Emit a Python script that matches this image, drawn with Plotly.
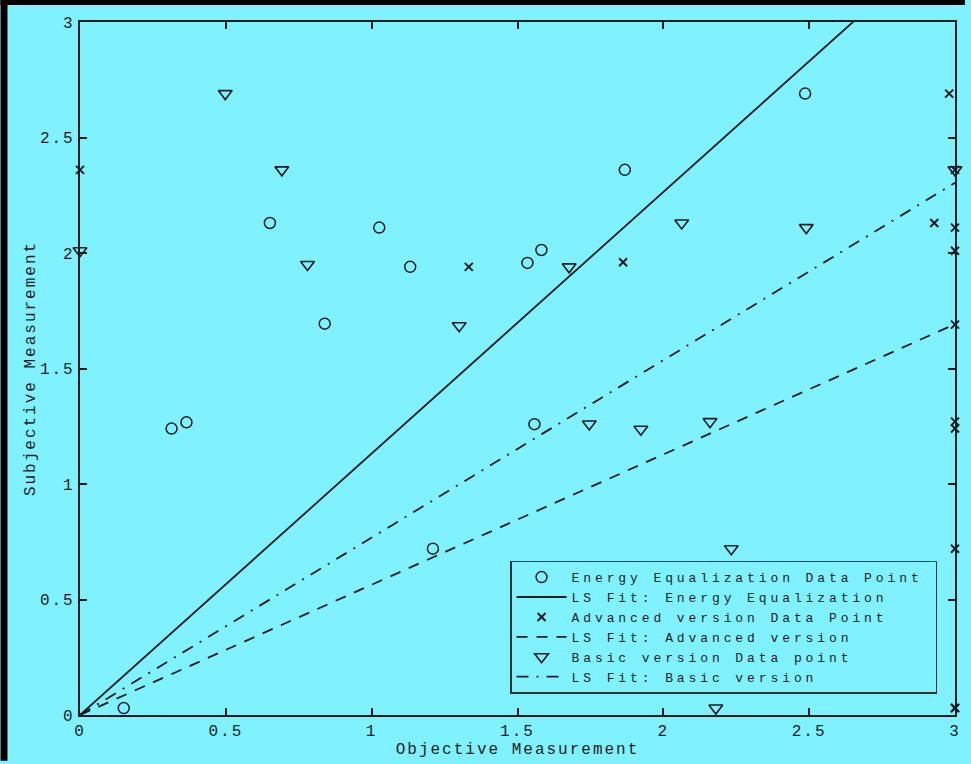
import plotly.graph_objects as go

# Energy Equalization data points
energy_x = [0.15, 0.314, 0.365, 0.651, 0.839, 1.026, 1.132, 1.21, 1.534, 1.582, 1.558, 1.868, 2.486]
energy_y = [0.03, 1.24, 1.267, 2.13, 1.694, 2.11, 1.94, 0.72, 1.957, 2.013, 1.259, 2.36, 2.69]

# Advanced version data points
adv_x = [0.0, 1.333, 1.862, 2.929, 2.98, 3.0, 3.0, 3.0, 3.0, 3.0, 3.0, 3.0, 3.0, 3.0]
adv_y = [2.36, 1.94, 1.96, 2.13, 2.69, 2.36, 2.11, 2.01, 1.69, 1.27, 1.24, 0.72, 0.03, 0.03]

# Basic version data points
basic_x = [0.0, 0.498, 0.692, 0.78, 1.30, 1.677, 1.746, 1.923, 2.063, 2.16, 2.233, 2.18, 2.49, 3.0]
basic_y = [2.01, 2.69, 2.36, 1.95, 1.685, 1.94, 1.26, 1.237, 2.13, 1.27, 0.72, 0.03, 2.11, 2.36]

# LS fit slopes (line through origin)
fit_x = [0.0, 3.0]
slope_energy = 1.132
slope_adv = 0.564
slope_basic = 0.768

tick_vals = [0, 0.5, 1, 1.5, 2, 2.5, 3]
tick_text = ["0", "0.5", "1", "1.5", "2", "2.5", "3"]

legend_names = ["Energy Equalization Data Point", "LS Fit: Energy Equalization",
                "Advanced version Data Point", "LS Fit: Advanced version",
                "Basic version Data point", "LS Fit: Basic version"]

CYAN = "rgb(128,242,255)"
INK = "#1c1c1c"
FONT = "Liberation Mono, Courier New, monospace"


def spaced(s, ls, pad=""):
    return '<span style="letter-spacing:%spx">%s</span>%s' % (ls, s, pad)


LEG_LS = 3.9
names = [spaced(legend_names[0], LEG_LS, "&nbsp;")] + [spaced(n, LEG_LS) for n in legend_names[1:]]

fig = go.Figure()
fig.add_trace(go.Scatter(x=energy_x, y=energy_y, mode="markers", name=names[0],
                         marker=dict(symbol="circle-open", size=11, color=INK, line=dict(width=1.5, color=INK)),
                         cliponaxis=False))
fig.add_trace(go.Scatter(x=fit_x, y=[slope_energy * v for v in fit_x], mode="lines",
                         name=names[1], line=dict(color=INK, width=1.8)))
fig.add_trace(go.Scatter(x=adv_x, y=adv_y, mode="markers", name=names[2],
                         marker=dict(symbol="x-thin-open", size=8, color=INK, line=dict(width=2, color=INK)),
                         cliponaxis=False))
fig.add_trace(go.Scatter(x=fit_x, y=[slope_adv * v for v in fit_x], mode="lines",
                         name=names[3], line=dict(color=INK, width=1.8, dash="11px,9px")))
fig.add_trace(go.Scatter(x=basic_x, y=basic_y, mode="markers", name=names[4],
                         marker=dict(symbol="triangle-down-open", size=12, color=INK, line=dict(width=1.6, color=INK)),
                         cliponaxis=False))
fig.add_trace(go.Scatter(x=fit_x, y=[slope_basic * v for v in fit_x], mode="lines",
                         name=names[5], line=dict(color=INK, width=1.8, dash="12px,8px,2px,8px")))

TICK_LS = 2
axis_common = dict(range=[0, 3], tickvals=tick_vals, ticktext=[spaced(t, TICK_LS) for t in tick_text],
                   ticks="inside", ticklen=7,
                   tickwidth=1.5, tickcolor=INK, showline=True, linecolor=INK, linewidth=2.2,
                   mirror="allticks", showgrid=False, zeroline=False,
                   tickfont=dict(family=FONT, size=16, color=INK))

fig.update_xaxes(**axis_common, title=dict(text=spaced("Objective Measurement", 2), standoff=2,
                                           font=dict(family=FONT, size=16, color=INK)))
fig.update_yaxes(**axis_common, title=dict(text=spaced("Subjective Measurement", 2), standoff=0,
                                           font=dict(family=FONT, size=16, color=INK)))

W, H = 971, 764
ml, mr, mt, mb = 80, 10, 22, 46
pw, ph = W - ml - mr, H - mt - mb

fig.update_layout(
    width=W, height=H,
    margin=dict(l=ml, r=mr, t=mt, b=mb),
    paper_bgcolor=CYAN, plot_bgcolor=CYAN,
    font=dict(family=FONT, size=13, color=INK),
    showlegend=True,
    legend=dict(x=(513 - ml) / pw, y=(H - mb - 563) / ph, xanchor="left", yanchor="top",
                bgcolor=CYAN, bordercolor="#333", borderwidth=1.5,
                font=dict(family=FONT, size=13, color=INK), tracegroupgap=0,
                itemwidth=50),
    shapes=[
        dict(type="rect", xref="paper", yref="paper", x0=-ml / pw, x1=-(ml - 7) / pw,
             y0=-mb / ph, y1=1 + mt / ph, fillcolor="black", line=dict(width=0), layer="below"),
        dict(type="rect", xref="paper", yref="paper", x0=-ml / pw, x1=1 + mr / pw,
             y0=1 + (mt - 5) / ph, y1=1 + mt / ph, fillcolor="black", line=dict(width=0), layer="below"),
    ],
)

fig.write_html(
    "out.html",
    post_script="document.body.style.margin='0';document.body.style.background='rgb(128,242,255)';"
                "document.documentElement.style.background='rgb(128,242,255)';",
)
